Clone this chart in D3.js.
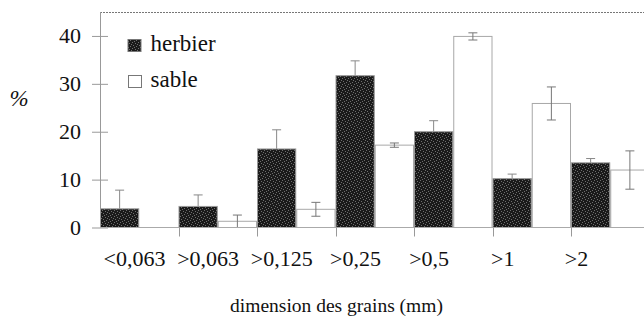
<!DOCTYPE html>
<html><head><meta charset="utf-8">
<script src="https://cdn.jsdelivr.net/npm/d3@7"></script>
<style>
html,body{margin:0;padding:0;background:#fff;}
svg{display:block;font-family:"Liberation Serif","Times New Roman",serif;}
</style></head>
<body>
<svg id="chart" width="644" height="318"></svg>
<script>
const categories = ["<0,063", ">0,063", ">0,125", ">0,25", ">0,5", ">1", ">2"];
const herbier    = [3.9, 4.4, 16.4, 31.7, 20.0, 10.2, 13.5];
const herbierErr = [3.9, 2.4, 4.0, 3.1, 2.3, 0.95, 0.9];
const sable      = [0, 1.3, 3.8, 17.2, 39.9, 25.9, 12.0];
const sableErr   = [0, 1.3, 1.45, 0.45, 0.75, 3.45, 4.0];
const yTicks     = [0, 10, 20, 30, 40];
const seriesNames = ["herbier", "sable"];

const svg = d3.select("#chart");
const mLeft = 100, mRight = 649.5, mTop = 12, mBottom = 227.5;

const x = d3.scaleBand().domain(categories).range([mLeft, mRight]).padding(0);
const xs = d3.scaleBand().domain(seriesNames).range([0, x.bandwidth()]).padding(0);
const y = d3.scaleLinear().domain([0, 45]).range([mBottom, mTop]);
const xLabel = d3.scalePoint().domain(categories).range([134.5, 576.5]);

// texture pattern for herbier
const defs = svg.append("defs");
const pat = defs.append("pattern").attr("id","noise").attr("patternUnits","userSpaceOnUse")
  .attr("width",6).attr("height",6);
pat.append("rect").attr("width",6).attr("height",6).attr("fill","#1a1a1a");
[[0,0],[3,1],[1,3],[4,4],[5,2],[2,5]].forEach(([a,b])=>{
  pat.append("rect").attr("x",a).attr("y",b).attr("width",1).attr("height",1).attr("fill","#6e6e6e");
});

// top border
svg.append("line").attr("x1",mLeft).attr("x2",644).attr("y1",mTop+0.5).attr("y2",mTop+0.5)
  .attr("stroke","#777").attr("stroke-dasharray","2,1");

const data = categories.map((c,i)=>({c, h:herbier[i], he:herbierErr[i], s:sable[i], se:sableErr[i]}));

// sable bars
svg.append("g").selectAll("rect").data(data.filter(d=>d.s>0)).join("rect")
  .attr("x", d=>x(d.c)+xs("sable")+0.5)
  .attr("y", d=>y(d.s))
  .attr("width", xs.bandwidth()-1)
  .attr("height", d=>y(0)-y(d.s))
  .attr("fill","#fff").attr("stroke","#a8a8a8").attr("stroke-width",1);

// herbier error bars (upper)
const eh = svg.append("g").attr("stroke","#888").attr("stroke-width",1);
data.forEach(d=>{
  const cx = x(d.c)+xs("herbier")+xs.bandwidth()/2;
  eh.append("line").attr("x1",cx).attr("x2",cx).attr("y1",y(d.h)).attr("y2",y(d.h+d.he));
  eh.append("line").attr("x1",cx-4.5).attr("x2",cx+4.5).attr("y1",y(d.h+d.he)).attr("y2",y(d.h+d.he));
});

// herbier bars
svg.append("g").selectAll("rect").data(data).join("rect")
  .attr("x", d=>x(d.c)+xs("herbier")+0.5)
  .attr("y", d=>y(d.h))
  .attr("width", xs.bandwidth()-1)
  .attr("height", d=>y(0)-y(d.h))
  .attr("fill","url(#noise)").attr("stroke","#999").attr("stroke-width",1);

// sable error bars
const es = svg.append("g").attr("stroke","#777").attr("stroke-width",1);
data.filter(d=>d.se>0).forEach(d=>{
  const cx = x(d.c)+xs("sable")+xs.bandwidth()/2;
  const t = y(d.s+d.se), b = y(Math.max(0,d.s-d.se));
  es.append("line").attr("x1",cx).attr("x2",cx).attr("y1",t).attr("y2",b);
  es.append("line").attr("x1",cx-4.5).attr("x2",cx+4.5).attr("y1",t).attr("y2",t);
  es.append("line").attr("x1",cx-4.5).attr("x2",cx+4.5).attr("y1",b).attr("y2",b);
});

// y axis
const yAxis = d3.axisLeft(y).tickValues(yTicks).tickSize(8).tickPadding(11);
const gy = svg.append("g").attr("transform",`translate(${mLeft},0)`).call(yAxis);
gy.select(".domain").remove();
gy.selectAll(".tick line").attr("x1",-8).attr("x2",8).attr("stroke","#999");
gy.selectAll(".tick text").attr("font-size",22).attr("font-family","Liberation Serif").attr("fill","#111");
svg.append("line").attr("x1",mLeft+0.5).attr("x2",mLeft+0.5).attr("y1",mTop).attr("y2",mBottom)
  .attr("stroke","#999");

// x axis
svg.append("line").attr("x1",mLeft).attr("x2",644).attr("y1",mBottom).attr("y2",mBottom).attr("stroke","#aaa");
svg.append("g").selectAll("line").data(categories.slice(1)).join("line")
  .attr("x1",d=>Math.round(x(d))+0.5).attr("x2",d=>Math.round(x(d))+0.5)
  .attr("y1",mBottom).attr("y2",mBottom+9).attr("stroke","#999");

svg.append("g").selectAll("text").data(categories).join("text")
  .attr("x",d=>xLabel(d)).attr("y",266)
  .attr("text-anchor","middle").attr("font-size",22).attr("fill","#111")
  .text(d=>d);

// axis titles
svg.append("text").attr("x",336.5).attr("y",312).attr("text-anchor","middle")
  .attr("font-size",19.5).attr("fill","#111").text("dimension des grains (mm)");
svg.append("text").attr("x",19).attr("y",106).attr("text-anchor","middle")
  .attr("font-size",23).attr("font-style","italic").attr("fill","#111").text("%");

// legend
const lg = svg.append("g");
lg.append("rect").attr("x",128).attr("y",39.5).attr("width",13).attr("height",12)
  .attr("fill","url(#noise)").attr("stroke","#777");
lg.append("text").attr("x",150.5).attr("y",50.5).attr("font-size",23).attr("fill","#111").text("herbier");
lg.append("rect").attr("x",128.5).attr("y",75.5).attr("width",13).attr("height",12)
  .attr("fill","#fff").attr("stroke","#777");
lg.append("text").attr("x",150.5).attr("y",87).attr("font-size",23).attr("fill","#111").text("sable");
</script>
</body></html>
